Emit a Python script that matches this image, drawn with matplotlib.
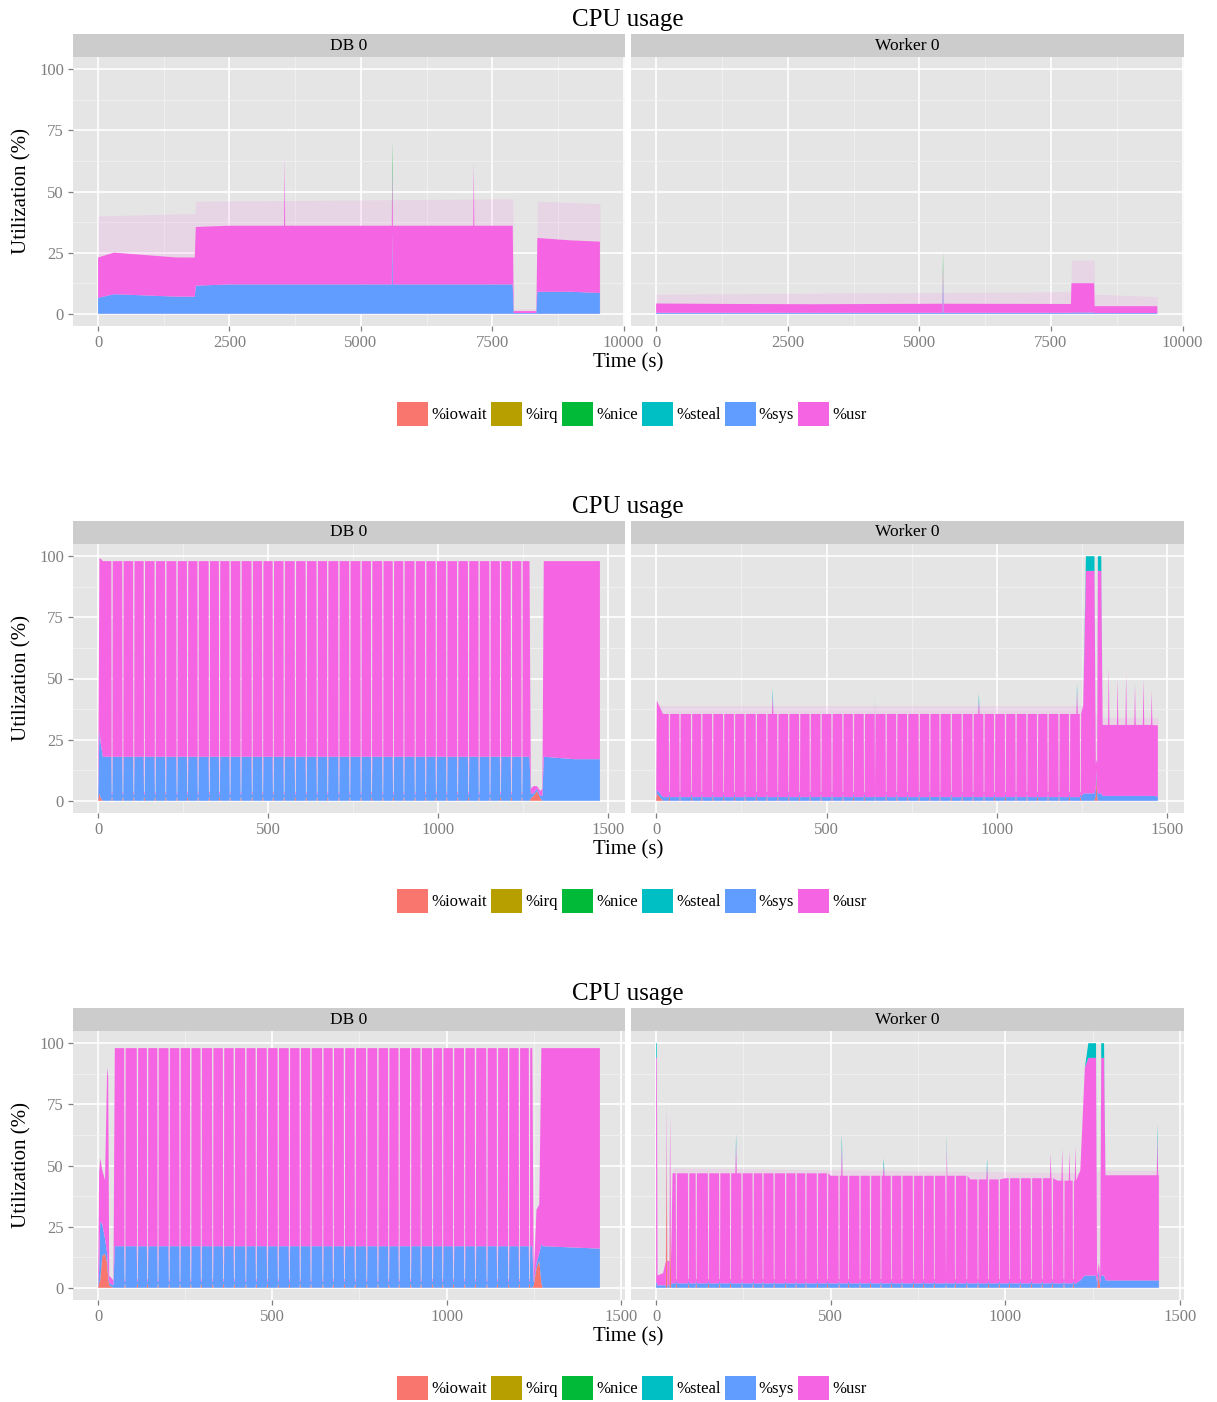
import numpy as np
import pandas as pd
import matplotlib
matplotlib.use('Agg')
import matplotlib.pyplot as plt
from matplotlib.patches import Patch

plt.rcParams['font.family'] = ['Liberation Serif', 'DejaVu Serif']

W, H = 1217, 1402

COLORS = {'%iowait': '#F8766D', '%irq': '#B79F00', '%nice': '#00BA38',
          '%steal': '#00BFC4', '%sys': '#619CFF', '%usr': '#F564E3'}
LEGEND_ORDER = ['%iowait', '%irq', '%nice', '%steal', '%sys', '%usr']
STACK_ORDER = ['%iowait', '%irq', '%sys', '%usr', '%nice', '%steal']

# ---- run 1 (long run, ~9500 s) ----
r1_db_t = [0, 300, 900, 1500, 1840, 1860, 2500, 3540, 3550, 3560, 5590, 5600, 5610,
           7140, 7150, 7160, 7890, 7910, 8340, 8360, 9000, 9550]
r1_db_sys = [6.5, 8, 7.5, 7, 7, 11.5, 12, 12, 12, 12, 12, 34, 12,
             12, 12, 12, 12, 0.3, 0.3, 9, 9, 8.5]
r1_db_usr = [16.5, 17, 16.5, 16, 16, 24, 24, 24, 52, 24, 24, 26, 24,
             24, 50, 24, 24, 0.8, 0.8, 22, 21, 21]
r1_db_nice = [0, 0, 0, 0, 0, 0, 0, 0, 0, 0, 0, 11, 0,
              0, 0, 0, 0, 0, 0, 0, 0, 0]
r1_db_haze_t = [0, 1840, 1860, 7890, 7910, 8340, 8360, 9550]
r1_db_haze = [40, 41, 46, 47, 2, 2, 46, 45]

r1_wk_t = [0, 1500, 3000, 5440, 5450, 5460, 7880, 7890, 8320, 8330, 9520]
r1_wk_sys = [0.4, 0.4, 0.4, 0.4, 14, 0.4, 0.4, 0.5, 0.5, 0.3, 0.3]
r1_wk_usr = [3.8, 3.6, 3.5, 3.7, 5.5, 3.7, 3.6, 12, 12, 2.8, 2.8]
r1_wk_nice = [0, 0, 0, 0, 6, 0, 0, 0, 0, 0, 0]
r1_wk_haze_t = [0, 7880, 7890, 8320, 8330, 9520]
r1_wk_haze = [8, 9, 22, 22, 8, 7]

# ---- run 2 (~1475 s) ----
r2_db_t = [0, 4, 8, 14, 1268, 1272, 1280, 1290, 1300, 1306, 1310, 1400, 1475]
r2_db_iowait = [0, 3, 1, 0, 0, 1, 2, 4, 1, 0, 0, 0, 0]
r2_db_sys = [0, 26, 22, 18, 18, 2, 1, 1, 1, 2, 18, 17, 17]
r2_db_usr = [0, 70, 76, 80, 80, 2, 3, 1, 2, 3, 80, 81, 81]
r2_db_dips = [41, 73, 105, 136, 168, 199, 232, 263, 294, 327, 357, 388, 420, 453,
              484, 515, 547, 580, 612, 644, 675, 708, 740, 773, 804, 837, 868, 899,
              932, 963, 994, 1025, 1057, 1089, 1120, 1152, 1183, 1215, 1246]

r2_wk_t = [0, 2, 20, 1200, 1253, 1261, 1286, 1290, 1292, 1294, 1296, 1306, 1310, 1472]
r2_wk_iowait = [0, 3, 0, 0, 0, 0, 0, 2, 11, 2, 0, 0, 0, 0]
r2_wk_sys = [0, 1.5, 1.5, 1.5, 3, 3, 3, 3, 2, 3, 3, 3, 2, 1.8]
r2_wk_usr = [0, 36.5, 34, 34, 36, 91, 91, 10, 4, 10, 91, 91, 29, 29]
r2_wk_steal = [0, 0, 0, 0, 0, 6, 6, 0, 0, 0, 6, 6, 0, 0]
r2_wk_dips = [39, 70, 104, 134, 166, 198, 230, 261, 294, 325, 357, 389, 421, 452,
              484, 516, 548, 579, 611, 643, 675, 706, 738, 772, 803, 833, 866, 898,
              930, 962, 993, 1025, 1056, 1088, 1119, 1150, 1182, 1213, 1245]
r2_wk_spike_t = [342, 642, 947, 1235, 1328, 1354, 1379, 1405, 1430, 1454]
r2_wk_spike_top = [46, 44, 44, 48, 55, 50, 52, 48, 50, 45]
r2_wk_spike_cap = [3, 3, 3, 3, 0, 0, 0, 0, 0, 0]
r2_wk_haze_t = [2, 1250, 1310, 1472]
r2_wk_haze = [39, 39, 34, 34]

# ---- run 3 (~1440 s) ----
r3_db_t = [0, 3, 6, 12, 20, 26, 29, 32, 44, 48, 1246, 1250, 1258, 1266, 1272, 1276, 1440]
r3_db_iowait = [0, 2, 3, 13, 14, 10, 4, 1, 0, 0, 0, 1, 8, 11, 2, 0, 0]
r3_db_sys = [0, 5, 24, 13, 6, 4, 2, 1, 1, 17, 17, 1, 2, 3, 16, 17, 16]
r3_db_usr = [0, 40, 26, 22, 24, 76, 80, 3, 2, 81, 81, 2, 22, 20, 80, 81, 82]
r3_db_dips = [77, 113, 142, 172, 204, 235, 266, 296, 329, 360, 391, 424, 454, 486,
              517, 549, 580, 611, 645, 675, 707, 738, 771, 803, 834, 864, 897, 927,
              960, 989, 1020, 1052, 1083, 1116, 1146, 1178, 1209, 1238]

r3_wk_t = [0, 2, 4, 20, 28, 30, 32, 38, 40, 43, 47, 500, 900, 1000, 1150, 1215,
           1228, 1238, 1260, 1263, 1268, 1272, 1275, 1283, 1287, 1440]
r3_wk_iowait = [0, 0, 0, 0, 0, 60, 0, 0, 30, 0, 0, 0, 0, 0, 0, 0,
                0, 0, 0, 0, 5, 0, 0, 0, 0, 0]
r3_wk_sys = [2, 2, 1, 1, 1, 1, 1, 1, 1, 1.5, 1.8, 1.8, 1.8, 1.8, 1.8, 3,
             5, 5, 5, 2, 2, 2, 5, 5, 3, 3]
r3_wk_usr = [92, 92, 4, 5, 10, 14, 10, 10, 40, 10, 45, 44, 42.5, 43, 42, 45,
             85, 89, 89, 3, 3, 3, 89, 89, 43, 43]
r3_wk_steal = [6, 6, 0, 0, 0, 0, 0, 0, 0, 0, 0, 0, 0, 0, 0, 0,
               0, 6, 6, 0, 0, 0, 6, 6, 0, 0]
r3_wk_dips = [58, 93, 115, 150, 182, 213, 246, 278, 306, 338, 371, 401, 429, 462,
              491, 524, 551, 584, 614, 644, 674, 704, 737, 766, 797, 830, 857, 890,
              922, 952, 983, 1012, 1043, 1075, 1106, 1135, 1168, 1195]
r3_wk_spike_t = [229, 532, 652, 832, 948, 1130, 1163, 1184, 1201, 1436]
r3_wk_spike_top = [63, 63, 53, 63, 53, 55, 57, 56, 58, 67]
r3_wk_spike_cap = [4, 5, 3, 4, 3, 0, 0, 0, 0, 5]
r3_wk_haze_t = [47, 1215, 1287, 1440]
r3_wk_haze = [49, 47, 48, 48]

# level the samples fall to during the short stalls
DIP_LEVEL = {'%iowait': 1.5, '%sys': 1.0, '%usr': 1.0}


def build_frame(t, values, dips=(), spike_t=(), spike_top=(), spike_cap=(),
                cap='%steal', w=2.0):
    t = np.asarray(t, float)
    base = pd.DataFrame({n: np.asarray(values.get(n, np.zeros(len(t))), float)
                         for n in STACK_ORDER})
    base.insert(0, 't', t)

    def level(te):
        i = max(np.searchsorted(t, te, side='right') - 1, 0)
        return base.iloc[i][STACK_ORDER]

    extra = []
    low = pd.Series({n: DIP_LEVEL.get(n, 0.0) for n in STACK_ORDER})
    for te in dips:
        lv = level(te)
        for dt, row in ((-w, lv), (-w / 2, low), (w / 2, low), (w, lv)):
            extra.append({'t': te + dt, **row.to_dict()})
    for te, top, c in zip(spike_t, spike_top, spike_cap):
        lv = level(te)
        peak = lv.copy()
        peak[cap] = c
        peak['%usr'] = top - (peak.sum() - peak['%usr'])
        for dt, row in ((-w, lv), (0, peak), (w, lv)):
            extra.append({'t': te + dt, **row.to_dict()})
    if extra:
        base = pd.concat([base, pd.DataFrame(extra)])
    return base.sort_values('t', kind='stable').reset_index(drop=True)


runs = [
    dict(xmax=9550, xticks=[0, 2500, 5000, 7500, 10000],
         db=build_frame(r1_db_t, {'%sys': r1_db_sys, '%usr': r1_db_usr, '%nice': r1_db_nice}),
         wk=build_frame(r1_wk_t, {'%sys': r1_wk_sys, '%usr': r1_wk_usr, '%nice': r1_wk_nice}),
         db_haze=(r1_db_haze_t, r1_db_haze), wk_haze=(r1_wk_haze_t, r1_wk_haze)),
    dict(xmax=1475, xticks=[0, 500, 1000, 1500],
         db=build_frame(r2_db_t, {'%iowait': r2_db_iowait, '%sys': r2_db_sys, '%usr': r2_db_usr},
                        dips=r2_db_dips),
         wk=build_frame(r2_wk_t, {'%iowait': r2_wk_iowait, '%sys': r2_wk_sys,
                                  '%usr': r2_wk_usr, '%steal': r2_wk_steal},
                        dips=r2_wk_dips, spike_t=r2_wk_spike_t,
                        spike_top=r2_wk_spike_top, spike_cap=r2_wk_spike_cap),
         db_haze=None, wk_haze=(r2_wk_haze_t, r2_wk_haze)),
    dict(xmax=1440, xticks=[0, 500, 1000, 1500],
         db=build_frame(r3_db_t, {'%iowait': r3_db_iowait, '%sys': r3_db_sys, '%usr': r3_db_usr},
                        dips=r3_db_dips),
         wk=build_frame(r3_wk_t, {'%iowait': r3_wk_iowait, '%sys': r3_wk_sys,
                                  '%usr': r3_wk_usr, '%steal': r3_wk_steal},
                        dips=r3_wk_dips, spike_t=r3_wk_spike_t,
                        spike_top=r3_wk_spike_top, spike_cap=r3_wk_spike_cap),
         db_haze=None, wk_haze=(r3_wk_haze_t, r3_wk_haze)),
]


def px_axes(fig, x0, y0, x1, y1):
    return fig.add_axes([x0 / W, 1 - y1 / H, (x1 - x0) / W, (y1 - y0) / H])


def draw_facet(ax, df, haze, xmax, xticks, show_y):
    pad = 0.05 * xmax
    ax.set_xlim(-pad, xmax + pad)
    ax.set_ylim(-5, 105)
    ax.set_facecolor('#E5E5E5')
    ax.set_xticks(xticks)
    ax.set_xticks([(a + b) / 2 for a, b in zip(xticks[:-1], xticks[1:])], minor=True)
    ax.set_yticks([0, 25, 50, 75, 100])
    ax.set_yticks([12.5, 37.5, 62.5, 87.5], minor=True)
    ax.grid(which='major', color='white', lw=1.2)
    ax.grid(which='minor', color='#F2F2F2', lw=0.6)
    ax.set_axisbelow(True)
    for s in ax.spines.values():
        s.set_visible(False)
    ax.tick_params(which='major', color='#7F7F7F', length=3.5, width=0.9,
                   labelcolor='#7F7F7F', labelsize=12, pad=3)
    ax.tick_params(which='minor', length=0)
    if not show_y:
        ax.tick_params(axis='y', left=False, labelleft=False)

    # faint fringe above the solid band: the short-lived peaks of the samples
    if haze is not None:
        ax.fill_between(haze[0], 0, haze[1], color=COLORS['%usr'], alpha=0.13, lw=0)
    ax.stackplot(df['t'], [df[n] for n in STACK_ORDER],
                 colors=[COLORS[n] for n in STACK_ORDER], linewidth=0)


fig = plt.figure(figsize=(W / 100, H / 100), dpi=100)

for k, run in enumerate(runs):
    off = 487 * k
    for name, (x0, x1), key, show_y in (('DB 0', (73, 625), 'db', True),
                                        ('Worker 0', (631, 1184), 'wk', False)):
        strip = px_axes(fig, x0, 34 + off, x1, 57 + off)
        strip.set_facecolor('#CCCCCC')
        strip.set_xticks([])
        strip.set_yticks([])
        for s in strip.spines.values():
            s.set_visible(False)
        strip.text(0.5, 0.5, name, ha='center', va='center', fontsize=12.5,
                   transform=strip.transAxes)

        ax = px_axes(fig, x0, 57 + off, x1, 326 + off)
        draw_facet(ax, run[key], run[key + '_haze'], run['xmax'], run['xticks'], show_y)

    fig.text(628 / W, 1 - (20 + off) / H, 'CPU usage', ha='center', va='center', fontsize=18)
    fig.text(628 / W, 1 - (363 + off) / H, 'Time (s)', ha='center', va='center', fontsize=15)
    fig.text(22 / W, 1 - (191 + off) / H, 'Utilization (%)', ha='center', va='center',
             rotation=90, fontsize=15)

    handles = [Patch(facecolor=COLORS[n], edgecolor='none', label=n) for n in LEGEND_ORDER]
    fig.legend(handles=handles, loc='center', ncol=6, frameon=False,
               bbox_to_anchor=(632 / W, 1 - (414 + off) / H), fontsize=12,
               handlelength=1.85, handleheight=1.85, handletextpad=0.2,
               columnspacing=0.25, borderaxespad=0, borderpad=0)

fig.savefig('out.png', dpi=100)
